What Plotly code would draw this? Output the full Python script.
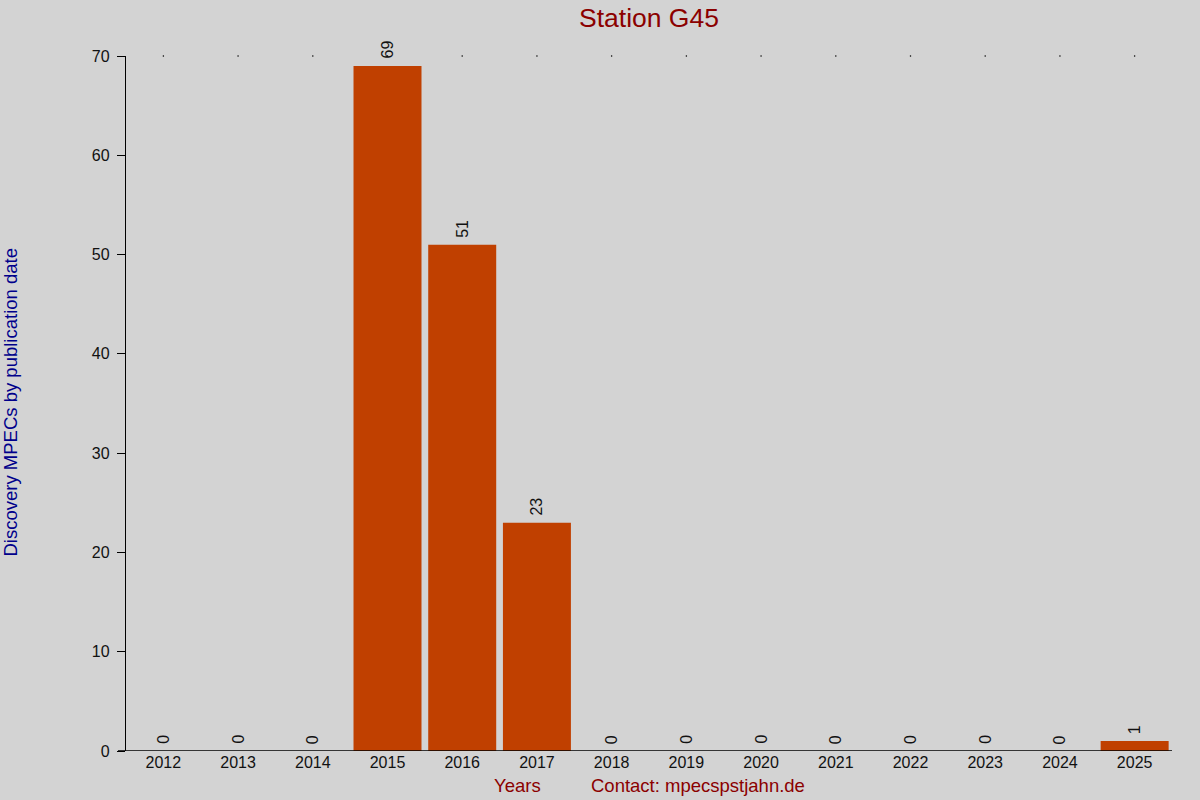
import plotly.graph_objects as go

years = ["2012", "2013", "2014", "2015", "2016", "2017", "2018", "2019",
         "2020", "2021", "2022", "2023", "2024", "2025"]
counts = [0, 0, 0, 69, 51, 23, 0, 0, 0, 0, 0, 0, 0, 1]
y_ticks = [0, 10, 20, 30, 40, 50, 60, 70]

W, H = 1200, 800
L, R, T, B = 126, 28, 56, 49
PW = W - L - R
PH = H - T - B

fig = go.Figure()
fig.add_trace(go.Bar(
    x=years, y=counts, marker_color="#C04000", marker_line_width=0,
    width=0.91, hoverinfo="skip",
))
# small dots at top of each category
fig.add_trace(go.Scatter(
    x=years, y=[max(y_ticks)] * len(years), mode="markers",
    marker=dict(size=1.5, color="#000000"), hoverinfo="skip", cliponaxis=False,
))
for i, c in enumerate(counts):
    fig.add_annotation(x=i, y=c, text=str(c), textangle=-90, showarrow=False,
                       xanchor="center", yanchor="bottom", yshift=5,
                       font=dict(size=16, color="#111111"))

fig.update_layout(
    width=W, height=H,
    paper_bgcolor="#D3D3D3", plot_bgcolor="#D3D3D3",
    margin=dict(l=L, r=R, t=T, b=B),
    showlegend=False,
    font=dict(family="Liberation Sans, Arial, sans-serif", size=16, color="#111111"),
    xaxis=dict(type="category", categoryorder="array", categoryarray=years,
               range=[-0.5, len(years) - 0.5], showgrid=False, showline=False,
               ticks="", tickfont=dict(size=16), zeroline=False),
    yaxis=dict(range=[0, 70], tickvals=y_ticks, showgrid=False, showline=True,
               linecolor="#000000", linewidth=1.3, ticks="outside", ticklen=8,
               tickcolor="#000000", tickwidth=1.3, tickfont=dict(size=16),
               zeroline=False, ticklabelstandoff=4),
    bargap=0.09,
)
# x axis baseline extending left by the tick length
fig.add_shape(type="line", xref="paper", yref="y", x0=-8 / PW, x1=1, y0=0, y1=0,
              line=dict(color="#000000", width=1.3))
fig.add_annotation(text="Station G45", xref="paper", yref="paper",
                   x=(648.5 - L) / PW, y=1 + (T - 18) / PH,
                   xanchor="center", yanchor="middle", showarrow=False,
                   font=dict(size=26.5, color="#8B0000"))
fig.add_annotation(text="Discovery MPECs by publication date", xref="paper", yref="paper",
                   x=(10 - L) / PW, y=(751 - 402.5) / PH, textangle=-90,
                   xanchor="center", yanchor="middle", showarrow=False,
                   font=dict(size=18.5, color="#00008B"))
fig.add_annotation(text="Years", xref="paper", yref="paper", x=(517 - L) / PW,
                   y=-(786 - 751) / PH, xanchor="center", yanchor="middle",
                   showarrow=False, font=dict(size=18.5, color="#8B0000"))
fig.add_annotation(text="Contact: mpecspstjahn.de", xref="paper", yref="paper",
                   x=(698 - L) / PW, y=-(786 - 751) / PH, xanchor="center",
                   yanchor="middle", showarrow=False,
                   font=dict(size=18.5, color="#8B0000"))
fig.write_html("out.html", config={"displayModeBar": False},
               post_script="document.body.style.margin='0';document.body.style.overflow='hidden';")
